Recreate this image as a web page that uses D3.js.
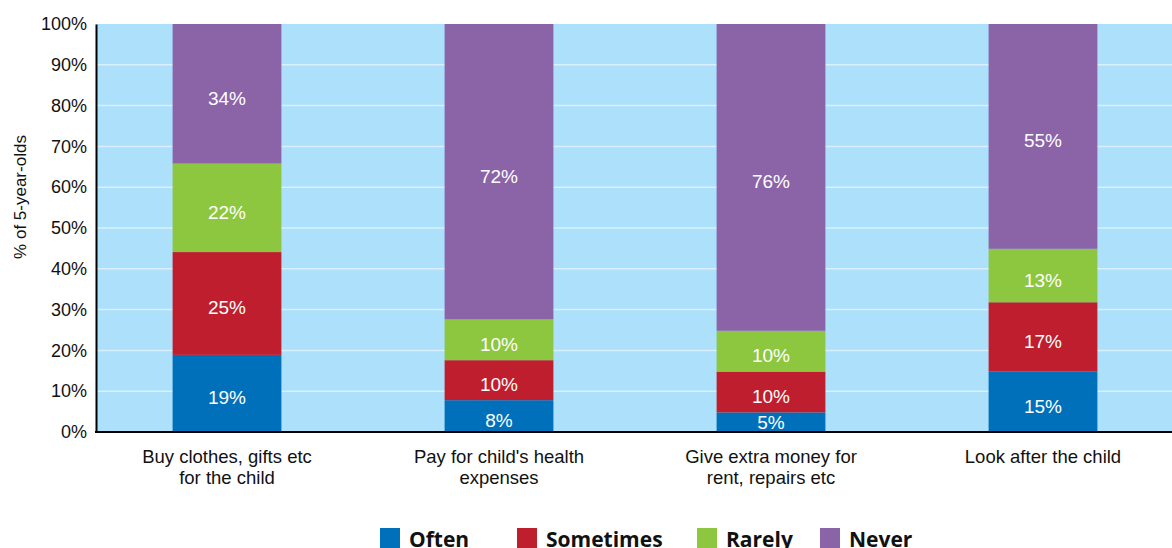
<!DOCTYPE html>
<html>
<head>
<meta charset="utf-8">
<script src="https://cdn.jsdelivr.net/npm/d3@7"></script>
<style>
  body { margin: 0; background: #fff; }
  svg { display: block; }
</style>
</head>
<body>
<div id="chart"></div>
<script>
// Data
const categories = [
  ["Buy clothes, gifts etc", "for the child"],
  ["Pay for child's health", "expenses"],
  ["Give extra money for", "rent, repairs etc"],
  ["Look after the child"]
]
const seriesNames = ["Often", "Sometimes", "Rarely", "Never"]
const often     = [18.9, 7.8, 4.8, 14.8]
const sometimes = [25.2, 9.8, 10.0, 17.0]
const rarely    = [21.7, 10.0, 10.0, 13.1]
const never     = [34.2, 72.4, 75.2, 55.1]
const oftenLabels     = ["19%", "8%", "5%", "15%"]
const sometimesLabels = ["25%", "10%", "10%", "17%"]
const rarelyLabels    = ["22%", "10%", "10%", "13%"]
const neverLabels     = ["34%", "72%", "76%", "55%"]
const yTicks = [0, 10, 20, 30, 40, 50, 60, 70, 80, 90, 100]

const colors = ["#0070ba", "#be1e2d", "#8dc63f", "#8b64a8"]

// Dimensions
const width = 1172
const height = 548
const plot = { left: 96, top: 24, right: 1172, bottom: 432 }

const svg = d3.select('#chart')
  .append('svg')
  .attr('width', width)
  .attr('height', height)
  .style('font-family', '"Liberation Sans", Arial, Helvetica, sans-serif')

// build table
const values = [often, sometimes, rarely, never]
const labels = [oftenLabels, sometimesLabels, rarelyLabels, neverLabels]
const table = categories.map((c, i) => {
  const row = { idx: i }
  seriesNames.forEach((s, k) => { row[s] = values[k][i] })
  return row
})
const stacked = d3.stack().keys(seriesNames)(table)

// Scales
const xScale = d3.scaleBand()
  .domain(d3.range(categories.length))
  .range([91, 1179])
  .paddingInner(0.6)
  .paddingOuter(0.3)

const yScale = d3.scaleLinear()
  .domain([0, 100])
  .range([plot.bottom, plot.top])

// background
svg.append('rect')
  .attr('x', plot.left)
  .attr('y', plot.top)
  .attr('width', plot.right - plot.left)
  .attr('height', plot.bottom - plot.top)
  .attr('fill', '#ade1fb')

// gridlines
svg.append('g')
  .selectAll('line')
  .data(yTicks.filter(d => d > 0 && d < 100))
  .join('line')
  .attr('x1', plot.left)
  .attr('x2', plot.right)
  .attr('y1', d => yScale(d))
  .attr('y2', d => yScale(d))
  .attr('stroke', '#d9f0fc')
  .attr('stroke-width', 1.5)

// bars
const layers = svg.append('g')
  .selectAll('g')
  .data(stacked)
  .join('g')
  .attr('fill', (d, i) => colors[i])

layers.selectAll('rect')
  .data(d => d)
  .join('rect')
  .attr('x', d => xScale(d.data.idx))
  .attr('width', xScale.bandwidth())
  .attr('y', d => yScale(d[1]))
  .attr('height', d => yScale(d[0]) - yScale(d[1]))

// value labels
layers.selectAll('text')
  .data((d, k) => d.map(p => ({ p, label: labels[k][p.data.idx] })))
  .join('text')
  .attr('x', d => xScale(d.p.data.idx) + xScale.bandwidth() / 2)
  .attr('y', d => {
    const mid = (yScale(d.p[0]) + yScale(d.p[1])) / 2
    return Math.min(mid + 11, yScale(d.p[0]) - 3)
  })
  .attr('text-anchor', 'middle')
  .attr('fill', '#fff')
  .attr('font-size', '19px')
  .text(d => d.label)

// y axis
const yAxis = svg.append('g')
  .attr('transform', `translate(${plot.left},0)`)
  .call(d3.axisLeft(yScale).tickValues(yTicks).tickSize(0).tickPadding(9).tickFormat(d => d + '%'))
yAxis.select('.domain').attr('stroke', '#000').attr('stroke-width', 2)
yAxis.selectAll('text')
  .attr('font-size', '18px')
  .attr('font-family', '"Liberation Sans", Arial, sans-serif')
  .attr('fill', '#111')

// x axis line
svg.append('line')
  .attr('x1', plot.left - 1)
  .attr('x2', plot.right)
  .attr('y1', plot.bottom)
  .attr('y2', plot.bottom)
  .attr('stroke', '#000')
  .attr('stroke-width', 2)

// category labels
svg.append('g')
  .selectAll('text')
  .data(categories)
  .join('text')
  .attr('x', (d, i) => xScale(i) + xScale.bandwidth() / 2)
  .attr('y', 463)
  .attr('text-anchor', 'middle')
  .attr('font-size', '18.5px')
  .attr('fill', '#111')
  .selectAll('tspan')
  .data(d => d)
  .join('tspan')
  .attr('x', function() { return this.parentNode.getAttribute('x') })
  .attr('dy', (d, i) => i === 0 ? 0 : 21)
  .text(d => d)

// y title
svg.append('text')
  .attr('transform', 'translate(26,197) rotate(-90)')
  .attr('text-anchor', 'middle')
  .attr('font-size', '17px')
  .attr('fill', '#111')
  .text('% of 5-year-olds')

// legend
const legendX = [380, 517, 697, 820]
const legend = svg.append('g')
  .selectAll('g')
  .data(seriesNames)
  .join('g')
  .attr('transform', (d, i) => `translate(${legendX[i]},528)`)
legend.append('rect')
  .attr('width', 20)
  .attr('height', 20)
  .attr('fill', (d, i) => colors[i])
legend.append('text')
  .attr('x', 29)
  .attr('y', 19)
  .attr('font-family', '"Open Sans", "Noto Sans", sans-serif')
  .attr('font-weight', 700)
  .attr('font-size', '21px')
  .attr('fill', '#111')
  .text(d => d)
</script>
</body>
</html>
